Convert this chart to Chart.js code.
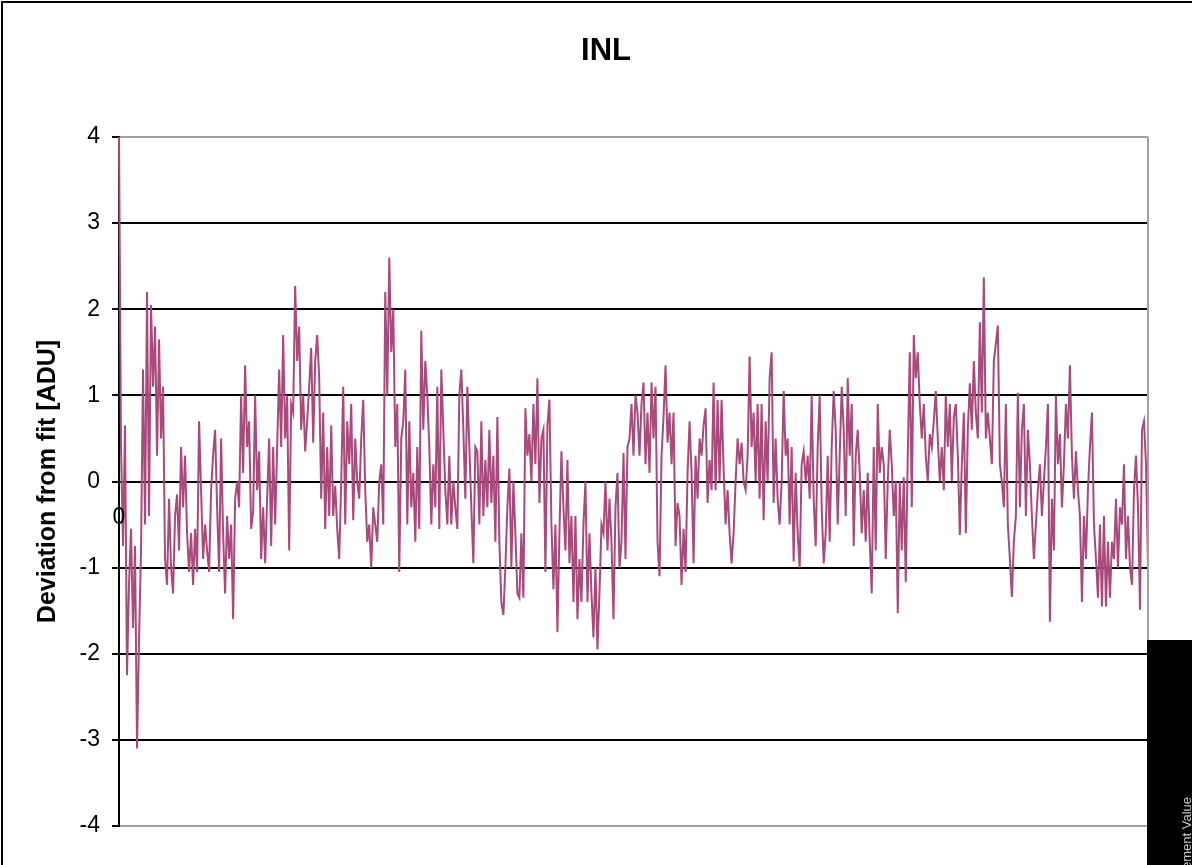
<!DOCTYPE html>
<html>
<head>
<meta charset="utf-8">
<title>INL</title>
<script src="https://cdn.jsdelivr.net/npm/chart.js@4.4.1/dist/chart.umd.min.js"></script>
<style>
  html, body { margin: 0; padding: 0; background: #ffffff; }
  #wrap { position: relative; width: 1192px; height: 865px; }
</style>
</head>
<body>
<div id="wrap"><canvas id="inlChart" width="1192" height="865"></canvas></div>
<script>
// INL residuals (deviation from linear fit, in ADU), in code order, split into blocks
const inlBlock1 = [4.0, 0.4, -0.75, 0.65, -2.25, -1.2, -0.55, -1.7, -0.75, -3.1, -1.85, -0.8, 1.3, -0.5, 2.2, -0.4,
  2.05, 1.1, 1.8, 0.3, 1.65, 0.5, 1.1, -0.9, -1.2, -0.2, -1.0, -1.3, -0.4, -0.15, -0.8, 0.4,
  -0.3, 0.3, -0.6, -1.05, -0.6, -1.2, -0.55, -1.05, 0.7, -0.1, -0.9, -0.5, -0.8, -1.05, -0.1, 0.3,
  0.6, -0.3, -1.05, 0.5, -0.6, -1.3, -0.4, -0.9, -0.5, -1.6, -0.2, 0.0, -0.3, 1.0, 0.1, 1.35];
const inlBlock2 = [0.4, 0.7, -0.55, -0.35, 1.0, -0.1, 0.35, -0.9, -0.3, -0.95, -0.2, 0.5, -0.75, 0.4, -0.5, 0.4,
  1.3, 0.4, 1.7, 0.5, 1.0, -0.8, 0.9, 0.8, 2.27, 1.4, 1.8, 0.6, 1.0, 0.35, 0.7, 1.1,
  1.55, 0.45, 1.4, 1.7, 1.2, -0.2, 0.8, -0.55, 0.4, -0.4, 0.65, -0.4, -0.05, -0.55, -0.9, 0.0,
  1.1, -0.5, 0.7, 0.2, 0.9, -0.45, 0.5, 0.0, -0.2, 0.5, 0.95, -0.1, -0.7, -0.5, -1.0, -0.3, -0.5];
const inlBlock3 = [-0.7, 0.0, 0.2, -0.5, 2.2, 1.0, 2.6, 1.5, 2.0, 0.4, 0.9, -1.05, 0.5, 0.7, 1.3, -0.5,
  0.7, -0.3, 0.1, -0.7, 0.4, -0.55, 1.75, 0.6, 1.4, 1.0, 0.4, -0.5, 0.2, -0.3, 1.1, -0.55,
  1.3, 0.6, -0.1, -0.5, 0.3, -0.5, 0.0, -0.3, -0.55, 1.0, 1.3, 0.6, -0.2, 1.1, 0.4, -0.3,
  -0.95, 0.4, 0.35, -0.5, 0.7, -0.4, 0.25, -0.3, 0.6, -0.25, 0.3, -0.7, 0.75, -0.7, -1.4, -1.55, -1.0];
const inlBlock4 = [-0.3, 0.15, -1.0, 0.0, -0.6, -1.3, -1.35, -0.6, -1.35, 0.85, 0.3, 0.55, 0.0, 0.9, 0.2, 1.2,
  -0.25, 0.5, 0.6, -1.05, 0.65, 0.95, -0.5, -1.25, -0.5, -1.75, -0.6, 0.35, -0.3, -0.8, 0.25, -0.95,
  -0.4, -1.4, -0.4, -1.6, -0.9, -1.4, -0.5, 0.0, -1.4, -0.6, -1.3, -1.81, -1.0, -1.95, -1.3, -0.5,
  -0.6, 0.0, -0.8, -0.2, -0.7, -1.6, -0.3, 0.1, -1.0, -0.7, 0.33, -0.9, 0.4, 0.5, 0.9, 0.3, 1.0];
const inlBlock5 = [0.8, 0.3, 0.9, 1.15, 0.2, 0.8, 0.1, 1.15, 0.5, 1.1, -0.7, -1.1, 0.3, 0.75, 1.35, 0.45,
  0.8, 0.2, 0.8, -0.75, -0.25, -0.4, -1.2, -0.55, -1.05, 0.1, 0.7, 0.1, -0.95, 0.3, -0.2, 0.5,
  0.3, 0.65, 0.85, -0.25, 0.25, -0.1, 1.15, -0.1, 0.95, 0.0, 0.95, 0.15, -0.5, -0.1, -0.6, -0.95,
  -0.6, 0.0, 0.5, 0.2, 0.45, 0.0, -0.1, 0.3, 1.45, 0.4, 0.8, 0.0, 0.9, -0.2, 0.9, -0.45, 0.7];
const inlBlock6 = [0.0, 1.2, 1.5, -0.25, 0.5, -0.2, -0.5, 0.0, 1.05, 0.3, 0.5, -0.5, 0.4, -0.93, 0.1, -0.6,
  -1.0, 0.2, 0.35, 0.0, 0.3, -0.2, 1.0, -0.2, -0.75, 0.4, 1.0, -0.3, -0.95, -0.6, 0.3, -0.7,
  0.4, 1.05, 0.6, -0.5, 0.3, 1.1, 0.6, -0.4, 1.2, 0.3, 0.9, -0.75, 0.3, 0.6, 0.1, -0.6,
  -0.1, -0.7, 0.1, -0.7, -1.3, 0.4, -0.8, 0.9, 0.1, 0.4, 0.2, -0.9, 0.0, 0.6, 0.2, -0.4, 0.0];
const inlBlock7 = [-1.53, 0.0, -0.8, 0.05, -1.17, 0.3, 1.5, -0.3, 1.7, 1.2, 1.5, 0.9, 0.5, 0.9, 0.3, 0.0,
  0.55, 0.4, 0.7, 1.05, 0.5, 0.0, 0.4, -0.1, 1.0, 0.4, 0.9, 0.0, 0.75, 0.9, 0.3, -0.62,
  0.2, 0.8, -0.6, 0.6, 1.14, 0.6, 1.4, 0.8, 0.5, 1.85, 0.8, 2.37, 0.5, 0.8, 0.5, 0.2,
  1.4, 1.6, 1.81, 0.2, 0.0, -0.3, 0.9, -0.5, -0.9, -1.34, -0.7, -0.4, 1.03, -0.3, 0.6, 0.9, -0.4];
const inlBlock8 = [0.6, 0.2, -0.4, -0.9, -0.5, -0.1, 0.2, -0.4, 0.0, 0.4, 0.9, -1.63, -0.2, -0.8, 1.0, 0.2,
  0.55, -0.3, 0.2, 0.9, 0.5, 1.35, 0.3, -0.2, 0.35, -0.1, -0.4, -1.4, -0.4, -0.9, -0.1, 0.4,
  0.8, -0.5, -0.9, -1.35, -0.5, -1.45, -0.4, -1.45, -0.7, -1.35, -0.7, -0.9, -0.2, -1.0, -0.3, -0.5,
  0.2, -0.9, -0.4, -1.0, -1.2, -0.1, 0.3, -0.3, -1.49, 0.6, 0.7, 0.2, -1.0];

const inl = [].concat(inlBlock1, inlBlock2, inlBlock3, inlBlock4,
                      inlBlock5, inlBlock6, inlBlock7, inlBlock8);
// code index along the horizontal axis
const codes = inl.map((_, i) => i);

const chartTitle = 'INL';
const yAxisTitle = 'Deviation from fit [ADU]';
const secondaryAxisTitle = 'Measurement Value';
const firstCodeLabel = '0';
const yMin = -4, yMax = 4, yStep = 1;

const FONT = "'Liberation Sans', Arial, Helvetica, sans-serif";
const LINE_COLOR = '#A84A7C';

// title, frame, right plot border, first code label and the secondary-axis strip
const decorations = {
  id: 'decorations',
  beforeDraw(chart) {
    const ctx = chart.ctx;
    ctx.save();
    ctx.fillStyle = '#ffffff';
    ctx.fillRect(0, 0, chart.width, chart.height);
    ctx.restore();
  },
  afterDraw(chart) {
    const ctx = chart.ctx;
    const area = chart.chartArea;
    const xs = chart.scales.x, ys = chart.scales.y;
    ctx.save();

    // chart title
    ctx.fillStyle = '#000000';
    ctx.font = `bold 31px ${FONT}`;
    ctx.textAlign = 'center';
    ctx.textBaseline = 'middle';
    ctx.fillText(chartTitle, 606, 51);

    // right border of the plot area
    ctx.strokeStyle = '#a0a0a0';
    ctx.lineWidth = 2;
    ctx.beginPath();
    ctx.moveTo(area.right, area.top);
    ctx.lineTo(area.right, area.bottom);
    ctx.stroke();

    // outer chart frame
    ctx.strokeStyle = '#000000';
    ctx.lineWidth = 2;
    ctx.beginPath();
    ctx.moveTo(2, chart.height);
    ctx.lineTo(2, 2);
    ctx.lineTo(chart.width, 2);
    ctx.stroke();

    // category label of the first code, below the zero line
    ctx.fillStyle = '#000000';
    ctx.font = `23px ${FONT}`;
    ctx.textAlign = 'center';
    ctx.textBaseline = 'middle';
    ctx.fillText(firstCodeLabel, xs.getPixelForValue(0), ys.getPixelForValue(0) + 36);

    // secondary axis strip with its title
    ctx.fillStyle = '#000000';
    ctx.fillRect(area.right - 1, 640, chart.width - area.right + 1, chart.height - 640);
    ctx.translate(chart.width - 1, 797);
    ctx.rotate(-Math.PI / 2);
    ctx.fillStyle = '#c8c8c8';
    ctx.font = `13px ${FONT}`;
    ctx.textAlign = 'right';
    ctx.textBaseline = 'alphabetic';
    ctx.fillText(secondaryAxisTitle, 0, 0);
    ctx.restore();
  }
};

new Chart(document.getElementById('inlChart'), {
  type: 'line',
  data: {
    labels: codes,
    datasets: [{
      label: chartTitle,
      data: inl,
      borderColor: LINE_COLOR,
      borderWidth: 2,
      pointRadius: 0,
      tension: 0,
      fill: false
    }]
  },
  options: {
    responsive: false,
    animation: false,
    devicePixelRatio: 1,
    layout: { padding: { left: 30, right: 44, top: 137, bottom: 39 } },
    plugins: {
      legend: { display: false },
      tooltip: { enabled: false },
      title: { display: false }
    },
    scales: {
      x: {
        type: 'category',
        display: false,
        offset: false
      },
      y: {
        min: yMin,
        max: yMax,
        afterFit(scale) { scale.width = 89; },
        ticks: {
          stepSize: yStep,
          color: '#000000',
          font: { family: FONT, size: 23 },
          padding: 12
        },
        grid: {
          color: (c) => (c.tick && Math.abs(c.tick.value) === 4) ? '#a0a0a0' : '#000000',
          lineWidth: 2,
          tickColor: '#000000',
          tickLength: 7,
          tickWidth: 2
        },
        border: { color: '#000000', width: 2 },
        title: {
          display: true,
          text: yAxisTitle,
          color: '#000000',
          font: { family: FONT, size: 25, weight: 'bold' },
          padding: { top: 3, bottom: 3 }
        }
      }
    }
  },
  plugins: [decorations]
});
</script>
</body>
</html>
